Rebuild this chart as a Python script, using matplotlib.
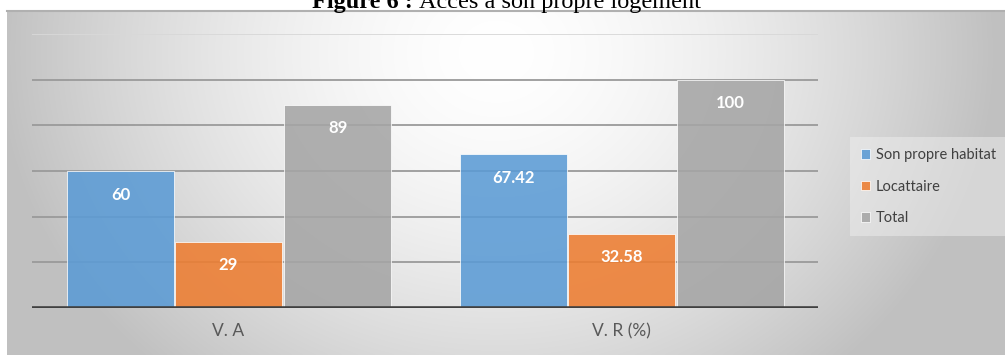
import numpy as np
import matplotlib
matplotlib.use("Agg")
import matplotlib.pyplot as plt

# Data
categories = ["V. A", "V. R (%)"]
series_names = ["Son propre habitat", "Locattaire", "Total"]
son_propre = [60, 67.42]
locataire = [29, 32.58]
total = [89, 100]
value_labels = [["60", "67.42"], ["29", "32.58"], ["89", "100"]]
grid_values = [20, 40, 60, 80, 100]

colors = ["#5B9BD5", "#ED7D31", "#A5A5A5"]

W, H = 1005, 355
fig = plt.figure(figsize=(W / 100, H / 100), dpi=100)
fig.patch.set_facecolor("white")

# Chart frame with radial grey gradient
bx0, by0, bx1, by1 = 7, 11, 1005, 355  # pixel box (top-left origin)
bg_ax = fig.add_axes([bx0 / W, 1 - by1 / H, (bx1 - bx0) / W, (by1 - by0) / H])
ny, nx = 200, 600
yy, xx = np.mgrid[0:1:ny * 1j, 0:1:nx * 1j]
r = np.sqrt(((xx - 0.49) / 0.50) ** 2 + ((yy - 0.12) / 1.25) ** 2)
r = np.clip(r, 0, 1)
val = 1.0 - 0.245 * r ** 1.6
img = np.dstack([val, val, val])
bg_ax.imshow(img, aspect="auto", extent=[0, 1, 1, 0], interpolation="bicubic")
bg_ax.set_xlim(0, 1)
bg_ax.set_ylim(1, 0)
bg_ax.axis("off")
# top border line of the frame
fig.add_artist(plt.Line2D([bx0 / W, 1], [1 - by0 / H, 1 - by0 / H],
                          transform=fig.transFigure, color="#b0b0b0", lw=1.5))

# Title (partly cut off at the top edge)
title_y = 1 - 8 / H
fig.text(0.417, title_y, "Figure 6 : ", ha="right", va="baseline",
         fontsize=17.5, family="Liberation Serif", fontweight="bold")
fig.text(0.417, title_y, "Accès à son propre logement", ha="left",
         va="baseline", fontsize=17.5, family="Liberation Serif")

# Plot area
ax_l, ax_r, ax_t, ax_b = 32, 818, 34, 308
ax = fig.add_axes([ax_l / W, 1 - ax_b / H, (ax_r - ax_l) / W, (ax_b - ax_t) / H])
ax.set_facecolor("none")
ax.set_xlim(-0.5, len(categories) - 0.5)
ax.set_ylim(0, 120)

for g in grid_values:
    ax.axhline(g, color="#9a9a9a", lw=1.3, zorder=1)
ax.axhline(120, color="#d8d8d8", lw=1.3, zorder=1)

x = np.arange(len(categories))
width = 0.272
offsets = [-0.274, 0.0, 0.278]
all_series = [son_propre, locataire, total]
for i, (vals, c) in enumerate(zip(all_series, colors)):
    bars = ax.bar(x + offsets[i], vals, width, color=c, alpha=0.88,
                  edgecolor="white", linewidth=0.6, zorder=2,
                  label=series_names[i])
    for b, lab in zip(bars, value_labels[i]):
        ax.annotate(lab, (b.get_x() + b.get_width() / 2, b.get_height()),
                    xytext=(0, -17), textcoords="offset points",
                    ha="center", va="center", color="white",
                    fontsize=12, fontweight="bold", family="Lato", zorder=4)

ax.axhline(0, color="#404040", lw=2.6, zorder=3)

ax.set_xticks(x)
ax.set_xticklabels(categories, fontsize=12.5, family="Lato", color="#595959")
ax.tick_params(axis="x", length=0, pad=11)
ax.set_yticks([])
for s in ax.spines.values():
    s.set_visible(False)

# Legend
handles, labels = ax.get_legend_handles_labels()
leg = fig.legend(handles, labels, loc="upper left",
                 bbox_to_anchor=(843 / W, 1 - 130 / H),
                 frameon=True, fancybox=False, framealpha=0.45,
                 facecolor="#f2f2f2", edgecolor="none",
                 prop={"family": "Lato", "size": 10.5},
                 handlelength=0.6, handleheight=0.6, handletextpad=0.4,
                 labelspacing=1.2, borderpad=0.75, labelcolor="#404040")

fig.savefig("out.png", dpi=100)
